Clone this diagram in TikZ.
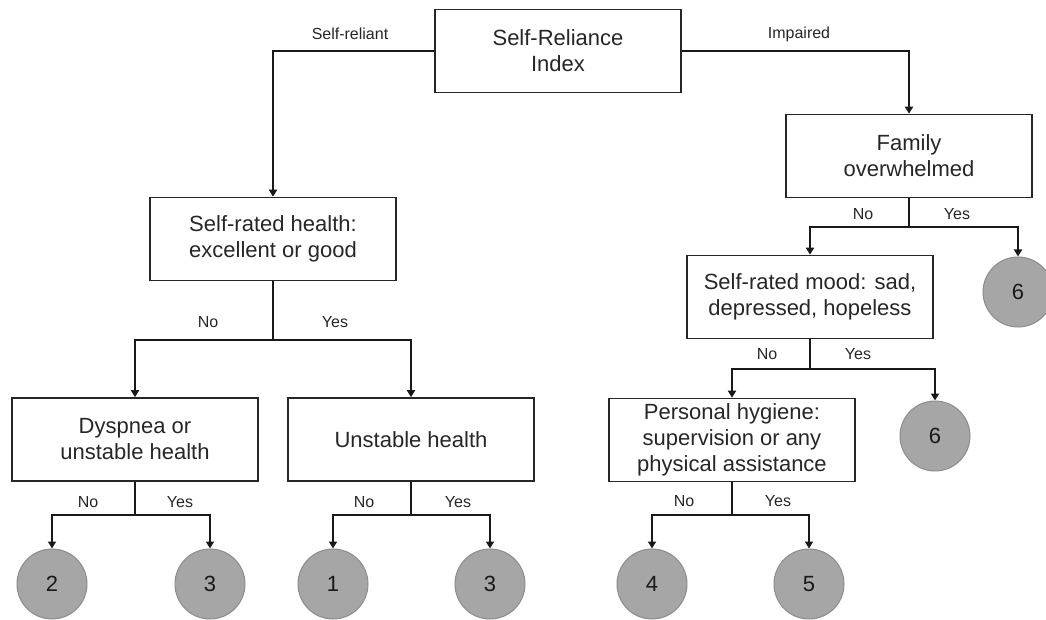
\documentclass[tikz,border=0pt]{standalone}
\usepackage{fontspec}
\setmainfont{Liberation Sans}
\usetikzlibrary{arrows.meta}
\begin{document}
\begin{tikzpicture}[x=1pt,y=-1pt,
  box/.style={draw=black!85, line width=1.6pt, minimum width=246pt, minimum height=83pt, align=center, inner sep=0pt, font=\fontsize{22}{26}\selectfont, text=black!85},
  leaf/.style={circle, draw=black!45, line width=1pt, fill=black!35, minimum size=70pt, inner sep=0pt, font=\fontsize{22}{26}\selectfont, text=black!90},
  conn/.style={line width=2.3pt, draw=black!90, -{Triangle[width=8pt,length=7pt]}},
  trunk/.style={line width=2.3pt, draw=black!90},
  lbl/.style={font=\fontsize{16}{19}\selectfont, text=black!85, inner sep=0pt}]
\useasboundingbox (0,0) rectangle (1046,620);
% boxes
\node[box] (root) at (558,51) {Self-Reliance\\Index};
\node[box] (srh) at (273,239) {Self-rated health:\\excellent or good};
\node[box] (dys) at (135,439.5) {Dyspnea or\\unstable health};
\node[box] (uns) at (411,439.5) {Unstable health};
\node[box] (fam) at (909,156) {Family\\overwhelmed};
\node[box] (mood) at (810,297) {Self-rated mood: sad,\\depressed, hopeless};
\node[box] (hyg) at (732,440) {Personal hygiene:\\supervision or any\\physical assistance};
% leaves
\node[leaf] (c2) at (52,584) {2};
\node[leaf] (c3a) at (210,584) {3};
\node[leaf] (c1) at (333,584) {1};
\node[leaf] (c3b) at (490,584) {3};
\node[leaf] (c4) at (652,584) {4};
\node[leaf] (c5) at (809,584) {5};
\node[leaf] (c6a) at (1018,292) {6};
\node[leaf] (c6b) at (935,436) {6};
% root connectors
\draw[conn] (root.west) -| (srh.north);
\draw[conn] (root.east) -| (fam.north);
\node[lbl] (lsr) at (350,34) {Self-reliant};
\node[lbl] (lim) at (799,34) {Impaired};
% srh split
\draw[trunk] (srh.south) -- ++(0,59) coordinate (s1);
\draw[conn] (s1) -| (dys.north);
\draw[conn] (s1) -| (uns.north);
\path (s1) ++(-65,-18) node[lbl] (s1n) {No};
\path (s1) ++(62,-18) node[lbl] (s1y) {Yes};
% dys split
\draw[trunk] (dys.south) -- ++(0,33) coordinate (s2);
\draw[conn] (s2) -| (c2.north);
\draw[conn] (s2) -| (c3a.north);
\path (s2) ++(-47,-13) node[lbl] (s2n) {No};
\path (s2) ++(45,-13) node[lbl] (s2y) {Yes};
% uns split
\draw[trunk] (uns.south) -- ++(0,33) coordinate (s3);
\draw[conn] (s3) -| (c1.north);
\draw[conn] (s3) -| (c3b.north);
\path (s3) ++(-47,-13) node[lbl] (s3n) {No};
\path (s3) ++(47,-13) node[lbl] (s3y) {Yes};
% fam split
\draw[trunk] (fam.south) -- ++(0,29) coordinate (s4);
\draw[conn] (s4) -| (mood.north);
\draw[conn] (s4) -| (c6a.north);
\path (s4) ++(-46,-13) node[lbl] (s4n) {No};
\path (s4) ++(48,-13) node[lbl] (s4y) {Yes};
% mood split
\draw[trunk] (mood.south) -- ++(0,30) coordinate (s5);
\draw[conn] (s5) -| (hyg.north);
\draw[conn] (s5) -| (c6b.north);
\path (s5) ++(-43,-15) node[lbl] (s5n) {No};
\path (s5) ++(48,-15) node[lbl] (s5y) {Yes};
% hyg split
\draw[trunk] (hyg.south) -- ++(0,33) coordinate (s6);
\draw[conn] (s6) -| (c4.north);
\draw[conn] (s6) -| (c5.north);
\path (s6) ++(-48,-14) node[lbl] (s6n) {No};
\path (s6) ++(46,-14) node[lbl] (s6y) {Yes};
\end{tikzpicture}
\end{document}
